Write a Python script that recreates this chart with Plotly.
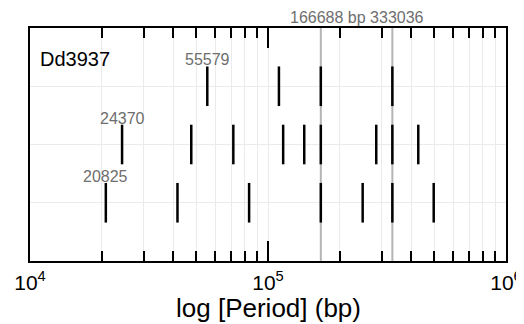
import math
import plotly.graph_objects as go

# Data: periods (bp) for three rows of sticks
row_levels = [3, 2, 1]
row_periods = [
    [55579, 111158, 166688, 333036],
    [24370, 47600, 71500, 115800, 142000, 166688, 285000, 333036, 428000],
    [20825, 41650, 83300, 166688, 249900, 333036, 496900],
]
row_labels = ["55579", "24370", "20825"]
ref_periods = [166688, 333036]
ref_label = "166688 bp 333036"
strain_name = "Dd3937"
major_ticks = [1e4, 1e5, 1e6]
major_tick_text = ["10<sup>4</sup>", "10<sup>5</sup>", "10<sup>6</sup>"]
minor_ticks = [m * 10 ** e for e in (4, 5) for m in range(2, 10)]
x_title = "log [Period] (bp)"

FONT = "Liberation Sans, Arial, sans-serif"
HALF = 0.34

fig = go.Figure()

# reference grey lines
for p in ref_periods:
    fig.add_vline(x=p, line=dict(color="#b4b4b4", width=2), layer="below")

# sticks
for lvl, periods in zip(row_levels, row_periods):
    xs, ys = [], []
    for p in periods:
        xs += [p, p, None]
        ys += [lvl - HALF, lvl + HALF, None]
    fig.add_trace(go.Scatter(x=xs, y=ys, mode="lines",
                             line=dict(color="black", width=2.5),
                             hoverinfo="skip", showlegend=False))

# row labels
for lvl, periods, lab in zip(row_levels, row_periods, row_labels):
    fig.add_annotation(x=math.log10(periods[0]), y=lvl + HALF, text=lab,
                       showarrow=False, yanchor="bottom", xanchor="center",
                       yshift=-4,
                       font=dict(family=FONT, size=16, color="#6e6e6e"))

fig.add_annotation(x=(math.log10(ref_periods[0]) + math.log10(ref_periods[1])) / 2,
                   y=1.0, yref="paper", text=ref_label, showarrow=False,
                   yanchor="bottom", xanchor="center", yshift=0,
                   font=dict(family=FONT, size=16, color="#6e6e6e"))

fig.add_annotation(x=0.017, xref="paper", y=3.47, text=strain_name,
                   showarrow=False, xanchor="left", yanchor="middle",
                   font=dict(family=FONT, size=20, color="black"))

# x-axis title
fig.add_annotation(x=0.5, xref="paper", y=0, yref="paper", text=x_title,
                   showarrow=False, xanchor="center", yanchor="top", yshift=-30,
                   font=dict(family=FONT, size=26, color="black"))

fig.update_xaxes(type="log", range=[4, 6], automargin=False,
                 tickvals=major_ticks, ticktext=major_tick_text,
                 ticks="inside", ticklen=20, tickwidth=2, tickcolor="black",
                 minor=dict(tickvals=minor_ticks, ticks="inside", ticklen=10,
                            tickwidth=2, tickcolor="black", showgrid=True,
                            gridcolor="#ebebeb", gridwidth=1),
                 showgrid=True, gridcolor="#ebebeb", gridwidth=1,
                 showline=True, linewidth=2, linecolor="black", mirror="ticks",
                 tickfont=dict(family=FONT, size=21, color="black"),
                 ticklabelstandoff=2,
                 zeroline=False)
fig.update_yaxes(range=[0, 4], tickvals=[1, 2, 3], showticklabels=False,
                 automargin=False,
                 ticks="", showgrid=True, gridcolor="#ebebeb", gridwidth=1,
                 showline=True, linewidth=2, linecolor="black", mirror=True,
                 zeroline=False)

fig.update_layout(width=516, height=316,
                  margin=dict(l=22, r=18, t=20, b=63),
                  plot_bgcolor="white", paper_bgcolor="white",
                  showlegend=False)

fig.write_html("out.html")
